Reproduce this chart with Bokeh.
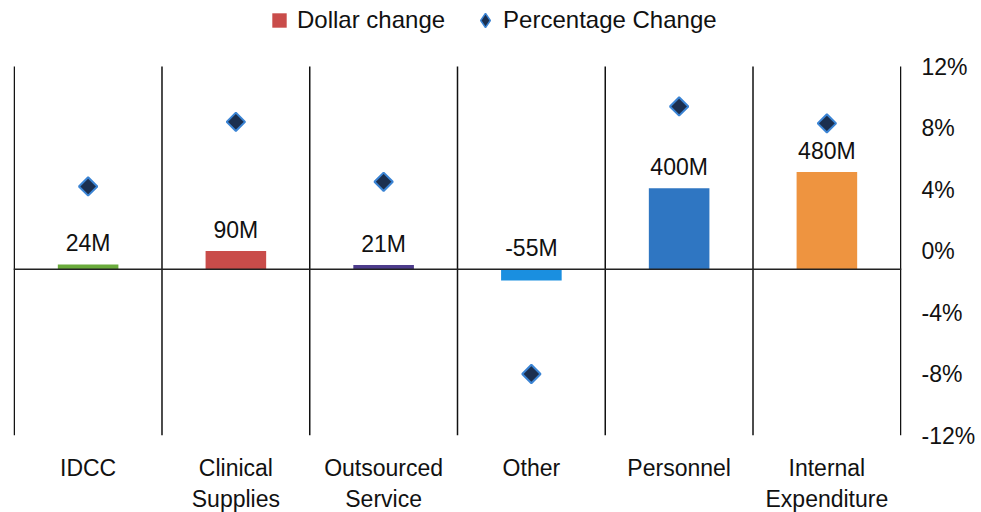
import numpy as np
from bokeh.plotting import figure
from bokeh.models import (Range1d, LinearAxis, FixedTicker, PrintfTickFormatter,
                          Span, Legend, LegendItem, ColumnDataSource)
from bokeh.core.properties import value
from bokeh.embed import file_html
from bokeh.resources import INLINE

categories = ["IDCC", "Clinical\nSupplies", "Outsourced\nService", "Other",
              "Personnel", "Internal\nExpenditure"]
dollar_change = [24, 90, 21, -55, 400, 480]          # $M
pct_change = [4.2, 8.4, 4.5, -8.0, 9.4, 8.3]         # %
bar_colors = ["#6aab3c", "#c94c4a", "#4d3c8c", "#1a8fe0", "#2f76c2", "#ee9440"]
pct_ticks = [-12, -8, -4, 0, 4, 8, 12]
dollar_axis = (-820, 1000)    # hidden primary axis range ($M)
pct_axis = (-12, 12)          # secondary axis range (%)

FONT = "Liberation Sans"
xs = list(range(len(categories)))
n = len(categories)

# chart box 369 px tall; frame extends 64 px higher to hold the legend
CHART_H, EXTRA = 369, 64
d_top = dollar_axis[1] + (dollar_axis[1] - dollar_axis[0]) * EXTRA / CHART_H
p_top = pct_axis[1] + (pct_axis[1] - pct_axis[0]) * EXTRA / CHART_H

p = figure(frame_width=888, frame_height=CHART_H + EXTRA, output_backend="svg",
           toolbar_location=None,
           x_range=Range1d(-0.505, n - 0.495),
           y_range=Range1d(dollar_axis[0], d_top),
           min_border_left=13, min_border_right=10, min_border_top=2,
           min_border_bottom=10)
p.extra_y_ranges = {"pct": Range1d(pct_axis[0], p_top)}
p.outline_line_color = None
p.background_fill_color = "white"
p.xgrid.grid_line_color = None
p.ygrid.grid_line_color = None

src = ColumnDataSource(dict(x=xs, y=dollar_change, c=bar_colors,
                            lbl=[f"{v}M" for v in dollar_change],
                            ly=[max(v, 0) for v in dollar_change],
                            pct=pct_change))

# category separators + right axis line (only over the chart box)
sep_x = [x - 0.5 for x in xs] + [n - 0.5]
p.segment(x0=sep_x, x1=sep_x, y0=[dollar_axis[0]] * len(sep_x),
          y1=[dollar_axis[1]] * len(sep_x), line_color="#111111", line_width=1.5)

# zero line
p.add_layout(Span(location=0, dimension="width", line_color="#222222",
                  line_width=1.3))

p.vbar(x="x", top="y", bottom=0, width=0.41, fill_color="c", line_color=None,
       source=src)
p.text(x="x", y="ly", text="lbl", source=src, text_align="center",
       text_baseline="bottom", y_offset=-8, text_font=value(FONT),
       text_font_size="23px", text_color="#111111")

dia = p.scatter(x="x", y="pct", source=src, y_range_name="pct", marker="square",
                angle=np.pi / 4, size=13, fill_color="#1b2f4f",
                line_color="#3b84d4", line_width=2)

# legend proxies (not drawn in the chart)
bar_proxy = p.scatter(x=[0], y=[np.nan], marker="square", size=12,
                      fill_color="#c94c4a", line_color=None)
dia_proxy = p.scatter(x=[0], y=[np.nan], marker="diamond", size=12,
                      fill_color="#1b2f4f", line_color="#3b84d4", line_width=1.5)

# bottom axis (labels only)
p.xaxis.ticker = FixedTicker(ticks=xs)
p.xaxis.major_label_overrides = {i: c for i, c in enumerate(categories)}
p.xaxis.axis_line_color = None
p.xaxis.major_tick_line_color = None
p.xaxis.minor_tick_line_color = None
p.xaxis.major_label_text_font = FONT
p.xaxis.major_label_text_font_size = "23px"
p.xaxis.major_label_text_color = "#111111"
p.xaxis.major_label_standoff = 13

# hide left axis
p.yaxis.visible = False

# right percentage axis
ra = LinearAxis(y_range_name="pct", ticker=FixedTicker(ticks=pct_ticks),
                formatter=PrintfTickFormatter(format="%d%%"))
ra.axis_line_color = None
ra.major_tick_line_color = None
ra.minor_tick_line_color = None
ra.major_label_text_font = FONT
ra.major_label_text_font_size = "23px"
ra.major_label_text_color = "#111111"
ra.major_label_standoff = 14
p.add_layout(ra, "right")

legend = Legend(items=[LegendItem(label="Dollar change", renderers=[bar_proxy]),
                       LegendItem(label="Percentage Change", renderers=[dia_proxy])],
                orientation="horizontal", location=(248, 397),
                label_text_font=FONT, label_text_font_size="24px",
                label_text_color="#111111", glyph_width=36, glyph_height=36,
                label_standoff=0, spacing=22, border_line_color=None,
                background_fill_alpha=0, padding=0, margin=0)
p.add_layout(legend, "center")

open("out.html", "w").write(file_html(p, INLINE))
